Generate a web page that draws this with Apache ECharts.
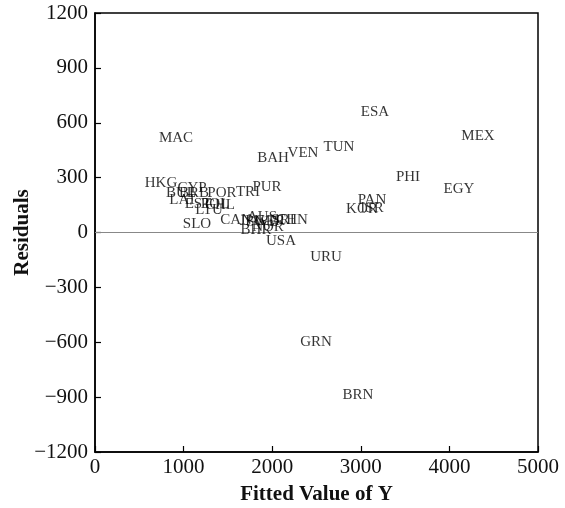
<!DOCTYPE html>
<html><head><meta charset="utf-8">
<script src="https://cdn.jsdelivr.net/npm/echarts@6/dist/echarts.min.js"></script>
<style>html,body{margin:0;padding:0;background:#fff}#c{width:565px;height:508px}</style>
</head><body><div id="c"></div>
<script>
const countries = ["MAC","ESA","MEX","TUN","VEN","BAH","PHI","EGY","PAN","KOR","ISR","PUR","TRI","HKG","CYP","BUL","BRB","POR","LAT","EST","POL","CHL","LTU","SLO","CAN","AUS","JPN","SWE","GER","SRI","CHN","BHR","NOR","USA","URU","GRN","BRN"];
const fitted = [914,3160,4323,2754,2348,2009,3533,4108,3126,3013,3126,1941,1727,745,1095,971,1117,1433,993,1163,1354,1411,1287,1151,1591,1885,1772,1885,1975,2122,2224,1817,1953,2099,2607,2494,2968];
const residuals = [519,661,525,465,437,405,301,235,180,126,131,251,219,268,241,213,213,213,180,153,153,148,120,44,66,87,60,55,60,66,66,16,27,-49,-137,-601,-886];
const xTicks = [0,1000,2000,3000,4000,5000];
const yTicks = [-1200,-900,-600,-300,0,300,600,900,1200];

const font = "'Liberation Serif', 'DejaVu Serif', serif";
const chart = echarts.init(document.getElementById('c'));
const pts = countries.map((n,i)=>({name:n, value:[fitted[i], residuals[i]]}));
chart.setOption({
  animation:false,
  grid:{left:95,right:27,top:13,bottom:56,containLabel:false,outerBoundsMode:'none',show:true,borderColor:'#000',borderWidth:1.5,backgroundColor:'transparent'},
  xAxis:{type:'value',min:xTicks[0],max:xTicks[xTicks.length-1],interval:1000,
    name:'Fitted Value of Y',nameLocation:'middle',nameGap:32,nameMoveOverlap:false,
    nameTextStyle:{fontFamily:font,fontSize:21,fontWeight:'bold',color:'#111'},
    axisLine:{show:true,onZero:false,lineStyle:{color:'#000',width:1.5}},
    axisTick:{show:true,inside:true,length:6,lineStyle:{color:'#000',width:1.2}},
    axisLabel:{fontFamily:font,fontSize:21,color:'#111',margin:5,formatter:v=>String(v)},
    splitLine:{show:false}},
  yAxis:{type:'value',min:yTicks[0],max:yTicks[yTicks.length-1],interval:300,
    name:'Residuals',nameLocation:'middle',nameGap:62,nameMoveOverlap:false,
    nameTextStyle:{fontFamily:font,fontSize:21,fontWeight:'bold',color:'#111'},
    axisLine:{show:true,onZero:false,lineStyle:{color:'#000',width:1.5}},
    axisTick:{show:true,inside:true,length:6,lineStyle:{color:'#000',width:1.2}},
    axisLabel:{fontFamily:font,fontSize:21,color:'#111',margin:7,
      formatter:v=>v<0?'\u2212'+Math.abs(v):String(v)},
    splitLine:{show:false}},
  series:[
    {type:'line',data:[[xTicks[0],0],[xTicks[xTicks.length-1],0]],symbol:'none',
     lineStyle:{color:'#888',width:1.2},silent:true,z:1},
    {type:'scatter',data:pts,symbolSize:1,itemStyle:{color:'rgba(0,0,0,0)'},z:3,
     label:{show:true,position:'inside',formatter:p=>p.name,
       fontFamily:font,fontSize:15,color:'#000'},
     labelLayout:{hideOverlap:false}}
  ]
});
</script></body></html>
